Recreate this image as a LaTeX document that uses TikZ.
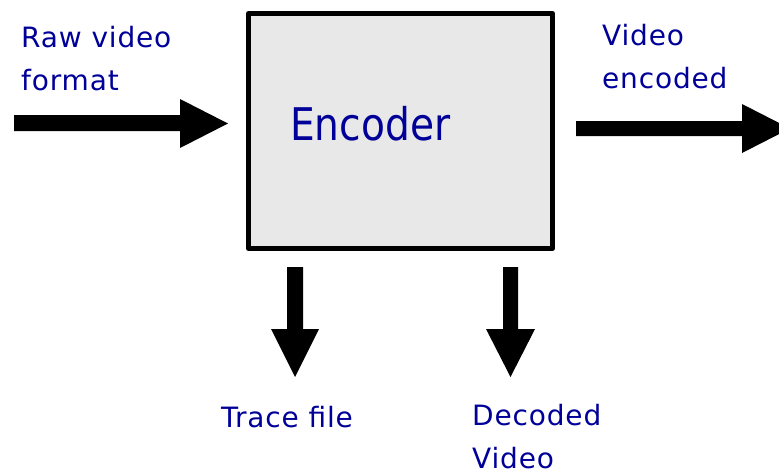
\documentclass[tikz,border=0pt]{standalone}
\usepackage{fontspec}
\setmainfont{DejaVu Sans}
\newfontfamily\boxfont[FakeStretch=0.87]{DejaVu Sans}
\newfontfamily\lblfont[LetterSpace=3]{DejaVu Sans}
\definecolor{labelblue}{RGB}{0,0,153}
\definecolor{boxgray}{RGB}{232,232,232}
\tikzset{
  lbl/.style={anchor=base west, inner sep=0pt, text=labelblue, font=\lblfont\fontsize{28}{28}\selectfont},
  blockbox/.style={draw=black, fill=boxgray, line width=5pt, line join=round},
  blockarrow/.style={fill=black}
}
\begin{document}
\begin{tikzpicture}[x=1pt,y=-1pt]
  \useasboundingbox (0,0) rectangle (779,471);
  \clip (0,0) rectangle (779,471);

  % encoder block
  \draw[blockbox] (248.5,13.5) rectangle (552.5,248.5);
  \node[anchor=base west, inner sep=0pt, text=labelblue, font=\boxfont\fontsize{45}{45}\selectfont] (enc) at (290,140) {Encoder};

  % input arrow
  \fill[blockarrow] (14,115) -- (180,115) -- (180,99) -- (228,123.5) -- (180,148) -- (180,131) -- (14,131) -- cycle;
  % output arrow
  \fill[blockarrow] (576,121) -- (742,121) -- (742,104) -- (790,128.5) -- (742,153) -- (742,136) -- (576,136) -- cycle;
  % trace file arrow
  \fill[blockarrow] (287,267) -- (303,267) -- (303,329) -- (319,329) -- (295,377) -- (271,329) -- (287,329) -- cycle;
  % decoded video arrow
  \fill[blockarrow] (503,267) -- (518,267) -- (518,329) -- (535,329) -- (510.5,377) -- (486,329) -- (503,329) -- cycle;

  % labels
  \node[lbl] (raw1) at (21,47) {Raw video};
  \node[lbl] (raw2) at (21,90) {format};
  \node[lbl] (out1) at (602,45) {Video};
  \node[lbl] (out2) at (602,88) {encoded};
  \node[lbl] (trace) at (221,427) {Trace file};
  \node[lbl] (dec1) at (472,425) {Decoded};
  \node[lbl] (dec2) at (472,468) {Video};
\end{tikzpicture}
\end{document}
